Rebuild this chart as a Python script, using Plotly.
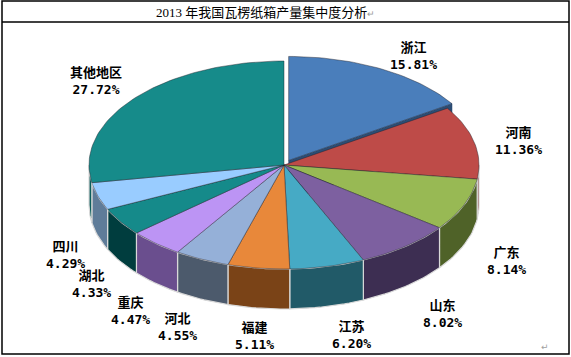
import numpy as np
import plotly.graph_objects as go

# ---------------- data ----------------
regions = ["浙江", "河南", "广东", "山东", "江苏", "福建", "河北", "重庆", "湖北", "四川", "其他地区"]
shares = [15.81, 11.36, 8.14, 8.02, 6.20, 5.11, 4.55, 4.47, 4.33, 4.29, 27.72]
title_text = "2013 年我国瓦楞纸箱产量集中度分析"

# ---------------- styles ----------------
top_colors = ["#4A7EBB", "#BE4B48", "#98B954", "#7D60A0", "#46AAC5", "#E8883A",
              "#95B0D8", "#BC94F4", "#158A8A", "#99CCFF", "#168B8A"]
side_colors = ["#2C4D74", "#7B2E2C", "#4F6228", "#3D2E52", "#215A68", "#7A4317",
               "#4C5A6C", "#6A4E8E", "#003D3E", "#5F7C99", "#0B5E5C"]
label_pos = [(413, 56), (518, 141), (506, 261), (442, 314), (351, 335), (254, 336),
             (177, 327), (130, 311), (91, 284), (65, 255), (96, 81)]
explode = [0.05] + [0.0] * 10

W, H = 571, 357
CX, CY, RX, RY, DEPTH = 284, 165, 195, 104, 40
FONT = "DejaVu Sans Mono, Noto Sans CJK SC"


def arc(t1, t2, dx=0.0, dy=0.0, down=0.0, n=None):
    if n is None:
        n = max(4, int(abs(t2 - t1) / 1.5) + 2)
    t = np.radians(np.linspace(t1, t2, n))
    return CX + dx + RX * np.sin(t), CY + dy - RY * np.cos(t) + down


fig = go.Figure()

total = sum(shares)
bounds = np.concatenate([[0.0], np.cumsum(shares) / total * 360.0])

offsets = []
for i in range(len(shares)):
    mid = np.radians((bounds[i] + bounds[i + 1]) / 2)
    e = explode[i]
    offsets.append((RX * e * np.sin(mid), -RY * e * np.cos(mid)))


def poly(xs, ys, fill, line_color, line_w):
    fig.add_trace(go.Scatter(x=list(xs) + [xs[0]], y=list(ys) + [ys[0]], mode="lines",
                             fill="toself", fillcolor=fill,
                             line=dict(color=line_color, width=line_w),
                             hoverinfo="skip", showlegend=False))


# exploded slices first (they sit behind)
order = [i for i in range(len(shares)) if explode[i] > 0] + \
        [i for i in range(len(shares)) if explode[i] == 0]

for i in order:
    t1, t2 = bounds[i], bounds[i + 1]
    dx, dy = offsets[i]
    if explode[i] > 0:
        # visible radial cut face at end angle
        ex, ey = arc(t2, t2, dx, dy, n=1)
        xs = [CX + dx, ex[0], ex[0], CX + dx]
        ys = [CY + dy, ey[0], ey[0] + DEPTH, CY + dy + DEPTH]
        poly(xs, ys, side_colors[i], side_colors[i], 0.5)
    # outer wall (front half only: 90..270 deg)
    a, b = max(t1, 90.0), min(t2, 270.0)
    if b > a:
        tx, ty = arc(a, b, dx, dy)
        bx, by = arc(b, a, dx, dy, down=DEPTH)
        poly(np.concatenate([tx, bx]), np.concatenate([ty, by]),
             side_colors[i], "#D9D9D9", 1.2)
    # top face
    ax_, ay_ = arc(t1, t2, dx, dy)
    xs = np.concatenate([[CX + dx], ax_])
    ys = np.concatenate([[CY + dy], ay_])
    poly(xs, ys, top_colors[i], "rgba(30,30,40,0.55)", 0.8)

# labels
annotations = []
for i, name in enumerate(regions):
    x, y = label_pos[i]
    annotations.append(dict(x=x, y=y, xref="x", yref="y", showarrow=False,
                            text=f"<b>{name}</b><br><b>{shares[i]:.2f}%</b>",
                            align="center",
                            font=dict(family=FONT, size=13, color="#000000")))

# title and word-processor marks
annotations.append(dict(x=265, y=12, xref="x", yref="y", showarrow=False,
                        text=title_text + "<span style='color:#9a9a9a;font-size:9px'>↵</span>",
                        font=dict(family="Liberation Serif, Noto Sans CJK SC", size=13,
                                  color="#000000")))
annotations.append(dict(x=545, y=347, xref="x", yref="y", showarrow=False,
                        text="↵", font=dict(family="DejaVu Sans", size=9, color="#a0a0a0")))

shapes = [
    dict(type="rect", xref="x", yref="y", x0=2, y0=1, x1=569, y1=354,
         line=dict(color="#000000", width=1.5)),
    dict(type="line", xref="x", yref="y", x0=2, y0=22, x1=569, y1=22,
         line=dict(color="#000000", width=1.5)),
]

fig.update_layout(
    width=W, height=H,
    margin=dict(l=0, r=0, t=0, b=0),
    paper_bgcolor="#FFFFFF", plot_bgcolor="#FFFFFF",
    xaxis=dict(range=[0, W], visible=False, fixedrange=True),
    yaxis=dict(range=[H, 0], visible=False, fixedrange=True),
    annotations=annotations, shapes=shapes,
    showlegend=False,
)

fig.write_html("out.html", config={"displayModeBar": False},
               post_script="document.body.style.margin='0px';document.body.style.overflow='hidden';")
